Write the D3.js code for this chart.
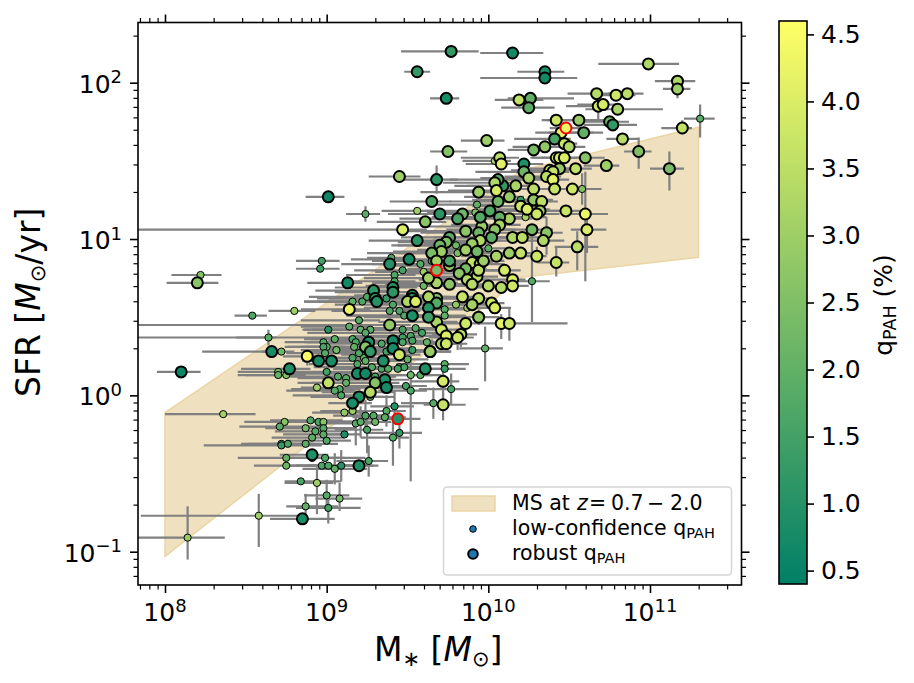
<!DOCTYPE html>
<html>
<head>
<meta charset="utf-8">
<script src="https://cdn.jsdelivr.net/npm/d3@7"></script>
<style>
  html, body { margin: 0; padding: 0; background: #fff; }
  text { font-family: "DejaVu Sans", sans-serif; fill: #000; }
</style>
</head>
<body>
<div id="vis"></div>
<script>
// each row: log10 M*, log10 SFR, qPAH, x err low, x err high, y err low, y err high (dex)
const robust = [
  [9.77,2.20,1.2,.31,.17],[10.15,2.19,.7,.20,.19],[10.35,2.07,.9,.17,.12],[10.35,2.03,.7,.40,.20],
  [9.74,1.90,.8,.10,.08],[9.56,2.07,1.2,.08,.08],[10.99,2.12,3.3,.31,.19],[11.17,2.01,3.3,.14,.11],
  [11.17,1.96,3.0,.09,.08,.06,.06],[10.67,1.93,3.4,.18,.17],[10.79,1.92,3.8,.15,.12],[10.86,1.93,3.5,.12,.10],
  [10.19,1.89,3.6,.15,.15],[10.26,1.90,2.0,.14,.27],[10.25,1.84,1.9,.17,.16],[10.68,1.85,3.8,.20,.06,.10,0],
  [10.71,1.86,3.9,.16,.10],[10.80,1.83,3.2,.20,.28],[10.42,1.76,3.8,.09,.14],[10.56,1.76,2.9,.20,.16],
  [10.45,1.68,4.2,.08,.20],[10.59,1.68,2.0,.30,.12],[10.41,1.64,1.6,.25,.10],[10.75,1.75,2.2,.16,.12],
  [10.77,1.73,1.2,.18,.15],[11.20,1.71,3.6,.13,.06,.04,.05],[10.83,1.64,3.4,.10,.10],[10.93,1.56,2.5,.09,.08,.11,.09],
  [11.12,1.45,2.4,.12,.09,.14,.11],[9.99,1.63,3.0,.16,.11],[9.75,1.56,2.6,.11,.12],[10.35,1.59,2.8,.20,.09],
  [10.28,1.57,2.4,.16,.10],[10.47,1.61,3.7,.15,.08],[10.50,1.59,3.3,.18,.10],[10.42,1.52,3.6,.15,.09],
  [10.44,1.52,4.0,.18,.08],[10.47,1.52,4.0,.14,.10],[10.60,1.52,2.6,.12,.12],[10.73,1.47,3.0,.14,.08],
  [10.54,1.45,3.6,.12,.10],[10.44,1.45,2.9,.22,.12],[10.38,1.44,3.5,.24,.12],[10.40,1.43,3.7,.24,.10],
  [10.36,1.40,3.5,.26,.09],[10.40,1.38,4.2,.26,.10],[10.41,1.32,3.7,.26,.10],[10.52,1.32,3.8,.13,.14],
  [10.22,1.48,.9,.20,.12],[10.22,1.43,2.2,.30,.11],[10.25,1.39,3.2,.30,.10],[10.07,1.52,3.5,.24,.12],
  [10.08,1.48,4.1,.22,.14],[10.17,1.34,3.2,.30,.08],[10.28,1.32,3.5,.26,.10],[10.09,1.34,1.2,.30,.13],
  [10.06,1.38,1.8,.30,.14],[10.04,1.36,3.3,.32,.10],[10.05,1.31,3.9,.30,.12],[9.94,1.30,3.0,.36,.10],
  [10.13,1.27,2.9,.28,.09],[10.06,1.24,2.2,.30,.12],[10.20,1.21,3.8,.30,.13],[10.24,1.19,4.0,.30,.14],
  [10.28,1.25,2.8,.30,.12],[10.33,1.24,3.5,.24,.10],[10.32,1.18,3.1,.30,.16],[10.30,1.16,3.8,.32,.14],
  [10.48,1.18,3.7,.18,.10],[10.60,1.16,4.3,.15,.14,.43,.27],[10.61,1.06,4.0,.10,.12,.15,.10],[10.55,.95,3.5,.14,.13,.15,.10],
  [10.42,.85,3.7,.12,.08,.09,.10],[10.30,.89,3.8,.12,.06,.02,.06],[10.36,1.04,2.7,.30,.10,.14,.10],[10.34,.99,3.3,.30,.13],
  [10.27,1.06,2.3,.36,.13],[10.15,1.01,3.3,.26,.10],[10.21,1.01,3.5,.26,.12],[10.20,.91,3.6,.22,.10],
  [10.13,.91,3.0,.30,.13],[10.05,.89,3.2,.22,.10],[10.10,.80,3.9,.18,.10],[10.15,.74,4.0,.18,.08],
  [10.15,.70,3.8,.16,.10],[10.08,.69,3.4,.22,.10],[10.00,.70,3.4,.30,.08],[10.13,1.13,3.2,.30,.14],
  [10.07,1.14,2.0,.36,.13],[10.07,1.09,3.2,.30,.13],[10.04,1.06,2.7,.30,.13],[10.02,1.01,1.9,.36,.13],
  [10.01,1.18,1.7,.40,.13],[9.96,1.08,3.0,.36,.15],[9.95,1.14,1.8,.30,.15],[9.94,1.04,2.2,.36,.13],
  [9.95,.99,3.3,.30,.13],[9.86,1.05,2.7,.38,.13],[9.84,1.16,2.2,.36,.13],[9.81,1.13,1.6,.36,.13],
  [9.70,1.16,1.1,.32,.13],[9.65,1.24,1.6,.26,.12],[9.68,1.38,1.1,.25,.13,.09,.09],[9.90,.97,3.0,.30,.13],
  [9.93,.92,2.3,.30,.13],[9.86,.93,3.1,.30,.13],[9.76,1.01,1.9,.30,.13],[9.74,.98,2.5,.30,.13],
  [9.70,.96,2.2,.30,.13],[9.71,.92,3.0,.30,.13],[9.65,.91,2.4,.40,.13],[9.68,.86,3.1,.40,.13],
  [9.76,.83,3.0,.36,.15],[9.90,.85,3.6,.30,.13],[9.95,.84,3.2,.30,.15],[9.86,.81,2.4,.36,.13],
  [9.82,.78,2.7,.36,.13],[9.93,.76,3.5,.30,.13],[9.87,.74,3.3,.30,.13],[9.90,.71,3.4,.30,.13],
  [9.76,.71,2.7,.40,.15],[9.68,.72,3.2,.40,.13],[9.84,.63,3.7,.30,.13],[9.94,.62,3.5,.22,.10],
  [9.68,.62,2.6,.36,.13],[9.90,.58,3.1,.30,.13],[10.02,.59,3.8,.20,.08],[10.04,.56,4.0,.14,.10],
  [9.94,.50,2.8,.26,.13,.05,.05],[9.86,.46,3.8,.22,.08,.05,.05],[10.08,.46,4.2,.14,.06,.10,.06],[10.13,.46,3.8,.08,.36,.11,.10],
  [9.68,.47,3.2,.36,.13],[9.71,.42,3.8,.30,.13],[9.74,.38,4.0,.30,.13],[9.83,.39,3.5,.18,.10,.08,.08],
  [9.81,.37,3.8,.18,.10,.08,.04],[9.71,.33,3.0,.30,.13],[9.74,.33,3.8,.30,.13],[9.64,.28,3.6,.40,.13],
  [9.72,.09,3.9,.20,.10,.10,.08],[9.72,-.06,3.6,.12,.14,.10,.08],[9.63,.75,3.1,.40,.13],[9.41,.69,1.0,.36,.15],
  [9.41,.66,1.1,.36,.13],[9.53,.64,1.1,.36,.15],[9.53,.62,1.2,.36,.15],[9.50,.60,3.3,.36,.13],
  [9.55,.60,4.0,.30,.13],[9.63,.63,3.3,.36,.13],[9.68,.59,1.8,.36,.13],[9.63,.56,1.0,.40,.13],
  [9.63,.50,1.4,.40,.13],[9.53,.51,.9,.40,.15],[9.39,.45,2.8,2.0,.13],[9.41,.35,.7,.40,.13],
  [9.41,.30,.8,.40,.13],[9.64,.28,2.9,.36,.13],[9.45,.26,3.8,.36,.13],[9.61,.17,.9,.36,.15],
  [9.45,1.40,3.0,.19,.13],[9.47,1.06,4.0,2.0,.15],[9.56,.99,1.1,.30,.13],[9.61,1.11,2.7,.30,.13],
  [9.51,.87,.8,.36,.13],[9.39,.84,1.0,.30,.13],[9.76,.86,1.6,.30,.13],[9.94,.80,3.5,.30,.13],
  [9.97,.86,3.0,.30,.13],[9.13,.72,.7,.25,.09],[9.29,.67,1.1,.36,.13],[9.30,.62,1.3,.36,.13],
  [9.31,.60,1.0,.36,.13],[9.14,.55,4.3,.30,.13],[9.26,.34,.9,.40,.15],[9.24,.31,2.6,.40,.15],
  [9.27,.28,1.2,.40,.15],[8.88,.25,4.5,.15,.10,.06,0],[8.95,.22,.8,.10,.20],[9.03,.22,.8,.15,.20],
  [9.35,.22,.9,.40,.15],[8.66,.28,.8,.43,.08],[8.77,.17,.9,.30,.13],[9.19,.14,.8,.40,.15],
  [9.24,.14,.7,.40,.15],[9.36,.10,.9,.36,.15],[9.01,.08,3.6,.10,.15],[9.30,.08,2.6,.30,.15],
  [9.37,.05,.8,.30,.13],[9.20,-.01,.9,.30,.15],[9.16,-.05,.8,.15,.12],[9.27,.02,3.4,.30,.15],
  [8.10,.15,.6,.15,.12],[8.91,-.38,.9,.20,.10],[9.20,-.45,.9,.20,.12],[8.85,-.79,.8,.20,.20],
  [8.20,.72,2.7,.19,.13],[9.01,1.27,.6,.14,.10]
];

const lowConfidence = [
  [11.31,1.77,1.9,.10,.09,.12,.09],[10.58,1.32,2.5,.20,.12,.10,.10],[10.04,1.50,3.4,.20,.10],[10.20,1.25,1.3,.30,.13],
  [10.27,.73,1.8,.17,.11,.26,.30],[10.00,.94,1.9,.30,.13],[10.23,1.14,3.2,.30,.13],[9.93,1.22,2.0,.30,.13],
  [9.92,1.17,2.5,.30,.13],[9.80,.96,2.2,.36,.13],[9.81,.91,2.4,.36,.13],[9.87,.56,2.8,.30,.13],
  [9.80,.58,2.8,.30,.13],[9.73,.55,1.8,.30,.13],[9.73,.51,2.0,.30,.13],[9.98,.30,2.0,.16,.11,.21,.14],
  [9.73,.20,1.9,.30,.15],[9.73,.17,1.3,.30,.13],[9.77,.04,1.5,.20,.17,.10,.10],[9.66,-.05,1.8,.20,.10,.10,.10],
  [9.60,.70,2.2,.36,.13],[9.41,.58,1.7,.36,.13],[9.45,.54,1.6,.36,.13],[9.48,.51,1.7,.36,.13],
  [9.55,.43,1.8,.36,.13],[9.47,.42,1.5,.36,.13],[9.59,.40,1.5,.36,.13],[9.47,.37,1.5,2.0,.13],
  [9.52,.38,1.6,.36,.13],[9.47,.34,1.6,.36,.13],[9.53,.35,1.5,.36,.13],[9.62,.34,2.0,.36,.13],
  [9.53,.29,1.3,.36,.13],[9.50,.23,2.0,.36,.13],[9.45,.18,1.5,.36,.13],[9.48,.18,1.6,.36,.13],
  [9.52,.13,2.2,.36,.13],[9.58,.13,1.9,.36,.13],[9.49,.06,1.5,.36,.13],[9.56,1.18,3.0,.22,.12],
  [9.58,.84,1.8,.30,.13],[9.65,.86,1.5,.30,.13],[9.40,.88,1.7,.15,.10],[9.42,.77,1.7,.30,.13],
  [9.42,.73,1.7,.30,.13],[9.47,.80,1.5,.30,.13],[9.60,.79,3.0,.30,.13],[9.37,.62,1.3,.36,.13],
  [9.22,.60,1.7,.36,.13],[9.16,.60,2.0,.30,.13],[9.25,.63,1.7,.36,.13],[9.39,.54,1.7,.36,.13],
  [9.14,.44,1.9,.30,.13],[9.20,.48,1.8,.36,.13],[9.21,.42,2.0,.36,.13],[9.27,.42,1.9,.36,.13],
  [9.24,.40,1.8,.36,.13],[9.01,.42,1.0,.15,.12],[9.05,.36,1.9,.15,.12],[9.16,.36,1.6,.30,.13],
  [9.18,.34,1.7,.30,.13],[9.17,.31,2.0,.30,.13],[9.34,.33,1.7,.36,.15],[9.37,.28,1.5,.36,.15],
  [8.98,.34,1.8,.24,.12],[9.00,.31,2.0,.24,.12],[8.98,.31,1.6,.24,.12],[8.99,.27,1.8,.24,.12],
  [9.06,.29,2.3,.22,.12],[9.16,.24,1.6,.30,.13],[9.23,.24,2.0,.30,.13],[9.20,.27,1.7,.30,.13],
  [8.72,.28,2.2,.12,.08],[8.70,.15,2.3,.25,.12],[8.70,.13,2.1,.25,.12],[8.75,.13,2.6,.25,.12],
  [9.00,.15,1.5,.30,.15],[9.19,.20,1.7,.30,.13],[9.28,.18,1.8,.36,.13],[9.24,.22,2.0,.30,.15],
  [9.34,.17,1.6,.30,.13],[9.38,.17,1.7,.30,.15],[9.30,.12,1.6,.30,.13],[9.07,.12,1.8,.30,.13],
  [9.12,.11,1.9,.30,.15],[9.12,.08,2.0,.30,.13],[8.94,.05,3.0,.10,.10],[9.08,.04,1.7,.30,.13],
  [9.05,.03,1.8,.30,.13],[9.09,.00,1.6,.30,.13],[9.27,-.01,1.8,.30,.15],[9.42,-.07,1.0,.15,.12,.10,.10],
  [9.37,-.10,1.8,.15,.12,.10,.10],[9.36,-.14,1.9,.20,.13],[9.25,-.22,1.6,.20,.10,.15,.10],[9.24,-.13,1.7,.20,.12,.10,.10],
  [9.29,-.13,1.8,.20,.10],[9.18,-.18,1.8,.20,.10,.14,.10],[9.21,-.17,1.9,.20,.10,.10,.10],[9.30,-.17,2.2,.20,.10],
  [9.11,-.11,2.8,.20,.12],[9.16,-.10,3.0,.20,.10],[9.45,-.24,1.2,.20,.14,.10,.10],[9.41,-.27,1.8,.20,.10,.18,.10],
  [9.11,-.25,.9,.20,.10],[8.36,-.12,3.1,.36,.20],[8.74,-.17,2.6,.25,.25],[8.71,-.20,1.9,.25,.25],
  [8.90,-.16,1.7,.25,.20],[8.95,-.17,1.6,.25,.20],[8.98,-.17,2.6,.25,.20],[8.87,-.21,2.3,.25,.20],
  [8.93,-.23,1.8,.25,.20],[8.98,-.21,1.8,.25,.20],[8.98,-.25,1.9,.25,.15],[8.91,-.27,1.9,.25,.20],
  [9.00,-.29,1.7,.25,.15],[8.72,-.31,1.3,.25,.20],[8.72,-.32,1.3,.48,.25],[8.76,-.31,1.6,.25,.20],
  [8.87,-.31,1.9,.20,.20],[8.91,-.40,1.6,.20,.20],[8.75,-.40,2.0,.30,.25],[8.75,-.45,2.2,.20,.30],
  [8.99,-.40,1.7,.20,.25],[8.97,-.45,1.6,.20,.20],[9.01,-.45,1.7,.20,.20],[9.05,-.47,2.0,.20,.20,.10,.10],
  [9.09,-.45,1.0,.20,.20,.10,.10],[9.26,-.42,1.6,.20,.12,.10,.10],[8.84,-.55,1.6,.10,.25],[8.94,-.56,3.0,.20,.10,.20,.10],
  [9.00,-.64,1.8,.14,.14,.10,.10],[9.08,-.66,2.3,.15,.14,.08,.10],[8.87,-.71,2.0,.12,.20,.08,.08],[9.01,-.72,1.5,.20,.20,.10,.10],
  [8.58,-.77,3.0,.73,.24,.20,.14],[8.14,-.91,2.9,.50,.23,.14,.20],[8.22,.77,2.6,.18,.13],[8.97,.86,1.5,.16,.11],
  [8.96,.81,1.4,.15,.12],[9.24,1.16,1.9,.12,.09,.05,.05],[8.54,.51,1.7,.11,.09],[8.80,.54,3.0,.16,.13],
  [8.64,.37,1.8,.20,.05,.05,.05],[9.52,.03,1.7,.20,.10,.58,.30],[9.44,.17,1.5,.30,.13]
];

// the three galaxies ringed in red
const ringed = [[10.48,1.71,4.3,.10,.12],[9.68,.80,2.3,.20,.10],[9.44,-.15,1.0,.20,.14]];

// main sequence band, log10 M*
const bandMass = [8, 10.208, 11.30];
const bandUpper = [-.11, 1.44, 1.715];
const bandLower = [-1.03, .755, .883];

const xTickPowers = [8, 9, 10, 11];
const yTickPowers = [-1, 0, 1, 2];
const cbarTicks = [0.5, 1.0, 1.5, 2.0, 2.5, 3.0, 3.5, 4.0, 4.5];

const W = 914, H = 683;
const plot = { left: 138, right: 741.5, top: 22.5, bottom: 585 };
const cbar = { left: 779, right: 807, top: 21, bottom: 584 };

const svg = d3.select("#vis").append("svg").attr("width", W).attr("height", H);

const x = d3.scaleLog().domain([Math.pow(10, 7.833), Math.pow(10, 11.566)]).range([plot.left, plot.right]);
const y = d3.scaleLog().domain([Math.pow(10, -1.213), Math.pow(10, 2.385)]).range([plot.bottom, plot.top]);
const lx = v => x(Math.pow(10, v));
const ly = v => y(Math.pow(10, v));

// matplotlib "summer"
const summer = t => d3.rgb(255 * t, 255 * (0.5 + 0.5 * t), 255 * 0.4).formatHex();
const qScale = d3.scaleLinear().domain([0.4, 4.6]).range([0, 1]).clamp(true);
const qColor = q => summer(qScale(q));

svg.append("clipPath").attr("id", "plot-clip").append("rect")
  .attr("x", plot.left).attr("y", plot.top)
  .attr("width", plot.right - plot.left).attr("height", plot.bottom - plot.top);

const g = svg.append("g").attr("clip-path", "url(#plot-clip)");

// band
const bandPts = bandMass.map((m, i) => [lx(m), ly(bandUpper[i])])
  .concat(bandMass.map((m, i) => [lx(m), ly(bandLower[i])]).reverse());
g.append("path")
  .attr("d", d3.line()(bandPts) + "Z")
  .attr("fill", "#efe0bf").attr("stroke", "#ead5a4").attr("stroke-width", 1.5);

// error bars go under every marker
const everyone = lowConfidence.concat(robust, ringed);
g.append("g").selectAll("line.xerr").data(everyone).join("line")
  .attr("class", "xerr")
  .attr("x1", d => lx(d[0] - d[3])).attr("x2", d => lx(d[0] + d[4]))
  .attr("y1", d => ly(d[1])).attr("y2", d => ly(d[1]))
  .attr("stroke", "#808080").attr("stroke-width", 2.2);
g.append("g").selectAll("line.yerr").data(everyone.filter(d => d.length > 5)).join("line")
  .attr("class", "yerr")
  .attr("x1", d => lx(d[0])).attr("x2", d => lx(d[0]))
  .attr("y1", d => ly(d[1] - d[5])).attr("y2", d => ly(d[1] + d[6]))
  .attr("stroke", "#808080").attr("stroke-width", 2.2);

g.append("g").selectAll("circle").data(lowConfidence).join("circle")
  .attr("cx", d => lx(d[0])).attr("cy", d => ly(d[1])).attr("r", 3.6)
  .attr("fill", d => qColor(d[2])).attr("stroke", "#000").attr("stroke-width", 1);
g.append("g").selectAll("circle").data(robust).join("circle")
  .attr("cx", d => lx(d[0])).attr("cy", d => ly(d[1])).attr("r", 5.5)
  .attr("fill", d => qColor(d[2])).attr("stroke", "#000").attr("stroke-width", 2);
g.append("g").selectAll("circle").data(ringed).join("circle")
  .attr("cx", d => lx(d[0])).attr("cy", d => ly(d[1])).attr("r", 5.5)
  .attr("fill", d => qColor(d[2])).attr("stroke", "#f00").attr("stroke-width", 2);

// frame and ticks
svg.append("rect")
  .attr("x", plot.left).attr("y", plot.top)
  .attr("width", plot.right - plot.left).attr("height", plot.bottom - plot.top)
  .attr("fill", "none").attr("stroke", "#000").attr("stroke-width", 1.6);

const minorVals = (lo, hi) => {
  const out = [];
  for (let p = lo; p <= hi; p++) for (let k = 2; k < 10; k++) out.push(k * Math.pow(10, p));
  return out;
};
const xMinor = minorVals(7, 11).filter(v => v >= x.domain()[0] && v <= x.domain()[1]);
const yMinor = minorVals(-2, 2).filter(v => v >= y.domain()[0] && v <= y.domain()[1]);
const xMajor = xTickPowers.map(p => Math.pow(10, p));
const yMajor = yTickPowers.map(p => Math.pow(10, p));

const tickAxis = (axis, vals, size, width) => sel => {
  sel.call(axis.tickValues(vals).tickSize(size).tickFormat(""));
  sel.select(".domain").remove();
  sel.selectAll(".tick line").attr("stroke", "#000").attr("stroke-width", width);
};
svg.append("g").attr("transform", `translate(0,${plot.bottom})`).call(tickAxis(d3.axisBottom(x), xMajor, 8, 1.6));
svg.append("g").attr("transform", `translate(0,${plot.bottom})`).call(tickAxis(d3.axisBottom(x), xMinor, 4.5, 1.2));
svg.append("g").attr("transform", `translate(0,${plot.top})`).call(tickAxis(d3.axisTop(x), xMajor, 8, 1.6));
svg.append("g").attr("transform", `translate(0,${plot.top})`).call(tickAxis(d3.axisTop(x), xMinor, 4.5, 1.2));
svg.append("g").attr("transform", `translate(${plot.left},0)`).call(tickAxis(d3.axisLeft(y), yMajor, 8, 1.6));
svg.append("g").attr("transform", `translate(${plot.left},0)`).call(tickAxis(d3.axisLeft(y), yMinor, 4.5, 1.2));
svg.append("g").attr("transform", `translate(${plot.right},0)`).call(tickAxis(d3.axisRight(y), yMajor, 8, 1.6));
svg.append("g").attr("transform", `translate(${plot.right},0)`).call(tickAxis(d3.axisRight(y), yMinor, 4.5, 1.2));

// tick labels, 10 with a raised exponent
xTickPowers.forEach(p => {
  const t = svg.append("text").attr("x", lx(p)).attr("y", 621).attr("text-anchor", "middle").style("font-size", "25px");
  t.append("tspan").text("10");
  t.append("tspan").attr("dy", -9.5).style("font-size", "18px").text(p);
});
yTickPowers.forEach(p => {
  const t = svg.append("text").attr("x", 122).attr("y", ly(p) + 10).attr("text-anchor", "end").style("font-size", "25px");
  t.append("tspan").text("10");
  t.append("tspan").attr("dy", -9.5).style("font-size", "18px").text(p < 0 ? "\u2212" + (-p) : p);
});

// axis labels
const xLabel = svg.append("text").attr("x", 374).attr("y", 661).style("font-size", "33px");
xLabel.append("tspan").text("M");
xLabel.append("tspan").attr("dy", 5).style("font-size", "21px").text("\u2217");
xLabel.append("tspan").attr("dy", -5).text(" [");
xLabel.append("tspan").style("font-style", "italic").text("M");
xLabel.append("tspan").attr("dy", 5).style("font-size", "21px").text("\u2299");
xLabel.append("tspan").attr("dy", -5).text("]");

const yLabel = svg.append("text").attr("transform", "translate(39.5,397) rotate(-90)").style("font-size", "33px");
yLabel.append("tspan").text("SFR [");
yLabel.append("tspan").style("font-style", "italic").text("M");
yLabel.append("tspan").attr("dy", 5).style("font-size", "21px").text("\u2299");
yLabel.append("tspan").attr("dy", -5).text("/yr]");

// legend
const legend = svg.append("g");
legend.append("rect").attr("x", 443.5).attr("y", 487).attr("width", 288).attr("height", 88).attr("rx", 3.5)
  .attr("fill", "#fff").attr("fill-opacity", 0.8).attr("stroke", "#d5d5d5").attr("stroke-width", 1.5);
legend.append("rect").attr("x", 452).attr("y", 496).attr("width", 43).attr("height", 15)
  .attr("fill", "#efe0bf").attr("stroke", "#ead5a4").attr("stroke-width", 1.5);
legend.append("circle").attr("cx", 473).attr("cy", 529).attr("r", 3.3)
  .attr("fill", "#1f77b4").attr("stroke", "#000").attr("stroke-width", 1);
legend.append("circle").attr("cx", 473).attr("cy", 554).attr("r", 4.8)
  .attr("fill", "#1f77b4").attr("stroke", "#000").attr("stroke-width", 2);

const legendLabel = (yPos) => legend.append("text").attr("x", 512).attr("y", yPos).style("font-size", "20.5px");
const l1 = legendLabel(510);
l1.append("tspan").text("MS at");
l1.append("tspan").attr("x", 577).style("font-style", "italic").text("z");
l1.append("tspan").attr("x", 589).text("=");
l1.append("tspan").attr("x", 611).text("0.7");
l1.append("tspan").attr("x", 647).text("\u2212");
l1.append("tspan").attr("x", 670).text("2.0");
const l2 = legendLabel(535);
l2.append("tspan").text("low-confidence q");
l2.append("tspan").attr("dy", 3).style("font-size", "14.5px").text("PAH");
const l3 = legendLabel(560);
l3.append("tspan").text("robust q");
l3.append("tspan").attr("dy", 3).style("font-size", "14.5px").text("PAH");

// colorbar
const grad = svg.append("defs").append("linearGradient").attr("id", "summer-grad")
  .attr("x1", 0).attr("y1", 1).attr("x2", 0).attr("y2", 0);
d3.range(0, 1.01, 0.1).forEach(t => grad.append("stop").attr("offset", t).attr("stop-color", summer(t)));

svg.append("rect").attr("x", cbar.left).attr("y", cbar.top)
  .attr("width", cbar.right - cbar.left).attr("height", cbar.bottom - cbar.top)
  .attr("fill", "url(#summer-grad)").attr("stroke", "#000").attr("stroke-width", 1.6);

const cScale = d3.scaleLinear().domain([0.4, 4.6]).range([cbar.bottom, cbar.top]);
const cAxis = svg.append("g").attr("transform", `translate(${cbar.right},0)`)
  .call(d3.axisRight(cScale).tickValues(cbarTicks).tickSize(7).tickPadding(7).tickFormat(d3.format(".1f")));
cAxis.select(".domain").remove();
cAxis.selectAll(".tick line").attr("stroke", "#000").attr("stroke-width", 1.6);
cAxis.selectAll(".tick text").style("font-size", "25px").style("font-family", '"DejaVu Sans", sans-serif');

const cLabel = svg.append("text").attr("transform", "translate(892,305) rotate(-90)").attr("text-anchor", "middle").style("font-size", "25px");
cLabel.append("tspan").text("q");
cLabel.append("tspan").attr("dy", 3.5).style("font-size", "17.5px").text("PAH");
cLabel.append("tspan").attr("dy", -3.5).text(" (%)");
</script>
</body>
</html>
